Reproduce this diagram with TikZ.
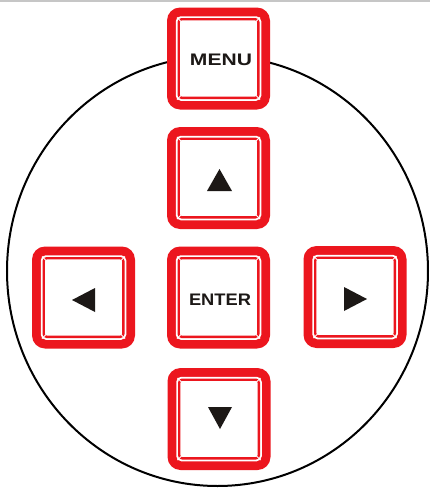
\documentclass[tikz,border=0pt]{standalone}
\usepackage{fontspec}
\setmainfont{Liberation Sans}
\usetikzlibrary{calc}
\definecolor{keyred}{RGB}{236,22,30}
\definecolor{keyink}{RGB}{28,24,22}
\tikzset{
  btnouter/.style={fill=keyred, rounded corners=13pt, minimum width=103pt, minimum height=102pt, inner sep=0pt, outer sep=0pt},
  btninner/.style={fill=white, rounded corners=5pt, minimum width=85.5pt, minimum height=84.5pt, inner sep=0pt, outer sep=0pt},
  btnline/.style={draw=keyred, line width=2.4pt, rounded corners=3pt, minimum width=79.6pt, minimum height=78.6pt, inner sep=0pt, outer sep=0pt},
  bevel/.style={white, line width=1pt},
  keylabel/.style={inner sep=0pt, text=keyink},
  arrowfill/.style={fill=keyink},
  rim/.style={draw=black, line width=2pt}
}
\newcommand\keybtn[2]{%
  \node[btnouter] (#1) at (#2) {};
  \node[btninner] (#1-in) at (#2) {};
  \node[btnline] (#1-ln) at (#2) {};
  \draw[bevel] ($(#1.north west)+(10,10)$) -- ($(#1.north west)+(14,14)$);
  \draw[bevel] ($(#1.north east)+(-10,10)$) -- ($(#1.north east)+(-14,14)$);
  \draw[bevel] ($(#1.south west)+(10,-10)$) -- ($(#1.south west)+(14,-14)$);
  \draw[bevel] ($(#1.south east)+(-10,-10)$) -- ($(#1.south east)+(-14,-14)$);
}
\begin{document}
\begin{tikzpicture}[x=1pt,y=-1pt]
  \useasboundingbox (0,0) rectangle (430,488);
  \fill[white] (0,0) rectangle (430,488);
  \draw[gray!45, line width=1.5pt] (0,0.8) -- (430,0.8);
  \draw[rim] (217.5,271) ellipse [x radius=210.5pt, y radius=215pt];
  \keybtn{menu}{218.5,58.5}
  \keybtn{up}{218.5,178}
  \keybtn{left}{83.5,297.5}
  \keybtn{enter}{218.5,297.5}
  \keybtn{right}{355,297}
  \keybtn{down}{219,419}
  \node[keylabel] (menutext) at (221,60) {\resizebox{62pt}{11.5pt}{\textbf{MENU}}};
  \node[keylabel] (entertext) at (220,300) {\resizebox{62pt}{11.5pt}{\textbf{ENTER}}};
  \fill[arrowfill] (219.5,169) -- (207,191) -- (232,191) -- cycle;
  \fill[arrowfill] (208,407) -- (232,407) -- (220,429) -- cycle;
  \fill[arrowfill] (72,300) -- (95,288) -- (95,312) -- cycle;
  \fill[arrowfill] (344,287) -- (344,311) -- (367,299) -- cycle;
\end{tikzpicture}
\end{document}
